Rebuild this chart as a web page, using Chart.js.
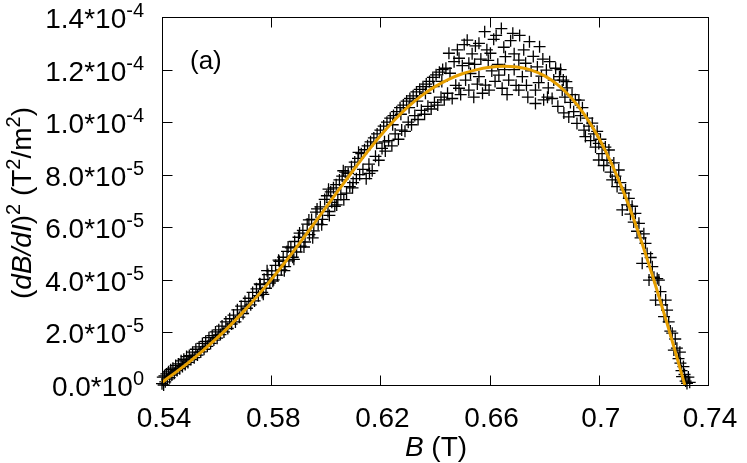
<!DOCTYPE html>
<html>
<head>
<meta charset="utf-8">
<script src="https://cdn.jsdelivr.net/npm/chart.js@4.4.1/dist/chart.umd.min.js"></script>
<style>
  html, body { margin: 0; padding: 0; background: #fff; }
  #wrap { width: 747px; height: 463px; }
</style>
</head>
<body>
<div id="wrap"><canvas id="c" width="747" height="463"></canvas></div>
<script>
// B in T, (dB/dI)^2 in units of 1e-5 T^2/m^2

// fitted curve (orange)
const fitB = [0.540, 0.545, 0.550, 0.555, 0.560, 0.565, 0.570, 0.575, 0.580, 0.585,
              0.590, 0.595, 0.600, 0.605, 0.610, 0.615, 0.620, 0.625, 0.630, 0.635,
              0.640, 0.645, 0.650, 0.655, 0.660, 0.665, 0.670, 0.675, 0.680, 0.685,
              0.690, 0.695, 0.700, 0.705, 0.710, 0.715, 0.720, 0.725, 0.730, 0.7315];
const fitD = [0.10, 0.48, 0.88, 1.31, 1.77, 2.27, 2.81, 3.39, 4.01, 4.66,
              5.34, 6.04, 6.75, 7.46, 8.16, 8.84, 9.48, 10.06, 10.57, 11.00,
              11.35, 11.63, 11.84, 11.99, 12.09, 12.13, 12.10, 11.99, 11.77, 11.42,
              10.92, 10.25, 9.40, 8.35, 7.10, 5.65, 4.05, 2.35, 0.55, 0.00];

// measured points [B, (dB/dI)^2]
const measured = [
  [0.5400,0.05],[0.5403,0.30],[0.5406,0.00],[0.5409,0.35],[0.5412,0.12],[0.5416,0.42],[0.5420,0.22],[0.5424,0.50],[0.5428,0.28],[0.5432,0.58],
  [0.5436,0.38],[0.5440,0.64],[0.5445,0.45],[0.5450,0.74],[0.5455,0.55],[0.5460,0.80],[0.5465,0.62],[0.5470,0.92],[0.5475,0.70],[0.5480,0.98],
  [0.5485,0.78],[0.5490,1.08],[0.5495,0.86],[0.5500,1.12],[0.5506,0.97],[0.5512,1.25],[0.5518,1.04],[0.5524,1.36],[0.5530,1.14],[0.5536,1.45],
  [0.5542,1.26],[0.5548,1.58],[0.5554,1.36],[0.5560,1.66],[0.5566,1.47],[0.5572,1.80],[0.5578,1.58],[0.5584,1.88],[0.5590,1.71],[0.5596,2.02],
  [0.5602,1.78],[0.5608,2.10],[0.5614,1.92],[0.5620,2.24],[0.5627,2.02],[0.5634,2.40],[0.5641,2.15],[0.5648,2.52],[0.5655,2.32],[0.5662,2.66],
  [0.5669,2.40],[0.5676,2.86],[0.5683,2.58],[0.5690,3.00],[0.5697,2.72],[0.5704,3.18],[0.5711,2.92],[0.5718,3.30],[0.5725,3.05],[0.5732,3.52],
  [0.5739,3.20],[0.5746,3.66],[0.5753,3.40],[0.5760,3.82],[0.5767,3.52],[0.5774,4.02],[0.5781,3.68],[0.5788,4.20],[0.5795,3.88],[0.5802,4.34],
  [0.5809,4.00],[0.5816,4.55],[0.5823,4.18],[0.5830,4.70],[0.5837,4.38],[0.5844,4.86],[0.5851,4.50],[0.5858,5.08],[0.5865,4.72],[0.5872,5.22],
  [0.5879,4.86],[0.5886,5.46],[0.5893,5.06],[0.5900,5.62],[0.5908,5.28],[0.5916,5.88],[0.5924,5.44],[0.5932,6.12],[0.5940,5.72],[0.5948,6.30],
  [0.5956,5.86],[0.5964,6.58],[0.5972,6.12],[0.5980,6.78],[0.5988,6.30],[0.5996,7.06],
  [0.5758,3.85],[0.5771,3.45],[0.5785,4.35],[0.5806,3.95],[0.5827,4.75],[0.5848,4.35],[0.5862,5.25],[0.5883,4.78],[0.5904,5.78],[0.5920,5.25],
  [0.5938,6.28],[0.5952,5.60],[0.5968,6.70],[0.5985,6.10],
  [0.6004,7.20],[0.6008,6.60],[0.6013,6.45],[0.6018,7.35],[0.6022,6.95],[0.6028,7.50],[0.6033,6.80],[0.6038,7.62],[0.6044,7.05],[0.6050,7.80],
  [0.6055,7.25],[0.6060,7.95],[0.6066,7.05],[0.6071,8.10],[0.6076,7.30],[0.6082,8.05],[0.6088,7.55],[0.6094,8.30],[0.6100,7.70],[0.6106,8.48],
  [0.6112,7.85],[0.6118,8.62],[0.6124,8.00],[0.6130,8.80],[0.6136,8.20],[0.6142,8.95],[0.6148,7.85],[0.6153,9.10],[0.6158,8.40],[0.6164,9.25],
  [0.6170,8.15],[0.6176,9.40],[0.6182,8.70],[0.6188,9.55],[0.6194,8.55],[0.6200,9.70],[0.6206,9.00],[0.6212,9.85],[0.6218,8.90],[0.6224,10.00],
  [0.6230,9.30],[0.6236,10.15],[0.6242,9.10],[0.6248,10.25],[0.6254,9.55],[0.6260,10.40],[0.6266,9.35],[0.6272,10.55],[0.6278,9.70],[0.6284,10.65],
  [0.6290,9.65],[0.6296,10.80],[0.6302,10.00],[0.6308,10.90],[0.6314,9.90],[0.6320,11.00],[0.6326,10.25],[0.6332,11.15],[0.6338,10.10],[0.6344,11.25],
  [0.6350,10.45],[0.6356,11.35],[0.6362,10.30],[0.6368,11.45],[0.6374,10.60],[0.6380,11.55],[0.6386,10.50],[0.6392,11.70],[0.6398,10.75],[0.6404,11.80],
  [0.6410,10.65],[0.6416,11.90],[0.6422,10.95],[0.6428,12.00],[0.6434,10.85],[0.6440,12.05],[0.6446,11.10],
  [0.6010,7.45],[0.6040,6.85],[0.6064,8.15],[0.6098,7.50],[0.6120,8.85],[0.6160,8.05],[0.6186,9.20],[0.6215,9.25],[0.6245,9.90],[0.6275,10.30],
  [0.6305,10.55],[0.6335,10.80],[0.6365,11.10],[0.6395,11.35],[0.6425,11.55],
  [0.6451,12.62],[0.6455,11.86],[0.6463,10.90],[0.6470,12.30],[0.6476,11.40],[0.6482,12.75],[0.6488,12.43],[0.6488,11.29],[0.6494,11.05],[0.6500,12.15],
  [0.6507,12.95],[0.6512,11.60],[0.6518,13.12],[0.6524,12.24],[0.6524,11.22],[0.6530,11.85],[0.6536,12.60],[0.6542,10.95],[0.6548,12.90],[0.6555,11.45],
  [0.6561,13.00],[0.6561,11.73],[0.6568,12.40],[0.6574,11.10],[0.6582,13.44],[0.6585,11.41],[0.6590,12.75],[0.6598,11.22],[0.6603,12.62],[0.6608,11.95],
  [0.6615,13.15],[0.6624,13.30],[0.6630,12.20],[0.6634,11.79],[0.6643,13.56],[0.6646,11.29],[0.6652,12.85],[0.6658,12.49],[0.6664,11.05],[0.6670,11.60],
  [0.6677,13.10],[0.6685,13.38],[0.6690,12.00],[0.6697,11.40],[0.6707,12.36],[0.6707,11.22],[0.6710,13.30],[0.6720,11.73],[0.6725,12.75],[0.6732,12.24],
  [0.6740,10.95],[0.6746,13.06],[0.6752,11.95],[0.6760,12.50],[0.6768,11.22],[0.6768,10.71],[0.6775,12.10],[0.6780,11.50],[0.6783,12.87],[0.6790,11.75],
  [0.6798,10.85],[0.6808,11.98],[0.6815,11.30],[0.6820,12.30],[0.6829,10.90],[0.6835,11.60],[0.6842,12.05],[0.6850,10.60],[0.6856,11.73],[0.6866,11.22],
  [0.6872,10.35],[0.6881,11.54],
  [0.6545,12.20],[0.6595,12.35],[0.6620,11.55],[0.6655,12.00],[0.6690,12.60],[0.6735,11.40],[0.6795,12.40],[0.6812,10.95],[0.6860,12.00],
  [0.6870,11.60],[0.6876,10.95],[0.6884,11.30],[0.6890,10.20],[0.6896,10.75],[0.6902,11.05],[0.6908,10.40],[0.6914,10.85],[0.6920,9.95],[0.6927,10.84],
  [0.6933,10.25],[0.6940,10.55],[0.6946,9.70],[0.6951,9.45],[0.6958,10.15],[0.6964,9.85],[0.6970,9.30],[0.6976,9.96],[0.6982,9.55],[0.6988,9.05],
  [0.6994,9.65],[0.7000,9.19],[0.7000,8.56],[0.7006,9.35],[0.7012,8.80],[0.7018,8.35],[0.7024,9.05],[0.7030,8.55],[0.7037,8.94],[0.7043,8.10],
  [0.7049,7.80],[0.7055,8.45],[0.7061,7.95],[0.7067,7.55],[0.7073,8.18],[0.7079,7.70],[0.7086,6.66],[0.7092,7.30],[0.7098,7.42],[0.7104,6.85],
  [0.7110,7.10],[0.7116,6.50],[0.7122,6.80],[0.7128,6.20],[0.7134,6.53],[0.7140,5.85],[0.7147,6.15],
  [0.7153,5.60],[0.7159,4.63],[0.7165,5.75],[0.7171,5.39],[0.7177,5.00],[0.7184,3.99],[0.7190,4.85],[0.7196,4.50],[0.7202,4.10],[0.7208,3.23],
  [0.7214,4.05],[0.7220,3.99],[0.7226,3.55],[0.7232,3.05],[0.7239,2.60],[0.7245,3.23],[0.7250,2.85],[0.7256,2.40],[0.7262,2.05],[0.7269,1.97],
  [0.7275,1.33],[0.7280,1.75],[0.7286,1.40],[0.7292,1.00],[0.7297,1.25],[0.7299,0.83],[0.7303,0.55],[0.7305,0.32],[0.7310,0.70],[0.7314,0.40],
  [0.7318,0.15],[0.7323,0.06],[0.7328,0.30],[0.7333,0.10]
];

// axis ticks
const xTicks = [0.54, 0.58, 0.62, 0.66, 0.70, 0.74];
const xTickLabels = ['0.54', '0.58', '0.62', '0.66', '0.7', '0.74'];
const yTicks = [0, 2, 4, 6, 8, 10, 12, 14];
const yTickMant = ['0.0', '2.0', '4.0', '6.0', '8.0', '1.0', '1.2', '1.4'];
const yTickExp = ['0', '-5', '-5', '-5', '-5', '-4', '-4', '-4'];

const FONT = '"Liberation Sans", Arial, Helvetica, sans-serif';

// draw a row of text pieces (some superscript / italic)
function drawParts(ctx, parts, x, y, align) {
    let total = 0;
    parts.forEach(p => {
        ctx.font = (p.italic ? 'italic ' : '') + p.size + 'px ' + FONT;
        p.w = ctx.measureText(p.t).width;
        total += p.w;
    });
    let cx = x;
    if (align === 'center') cx = x - total / 2;
    if (align === 'right') cx = x - total;
    ctx.textAlign = 'left';
    ctx.textBaseline = 'alphabetic';
    parts.forEach(p => {
        ctx.font = (p.italic ? 'italic ' : '') + p.size + 'px ' + FONT;
        ctx.fillText(p.t, cx, y - (p.rise || 0));
        cx += p.w;
    });
}

// gnuplot style frame: border, inward ticks on all sides, labels
const framePlugin = {
    id: 'frame',
    afterDraw(chart) {
        const { ctx, chartArea: a, scales: { x, y } } = chart;
        const L = Math.round(a.left) + 0.5, R = Math.round(a.right) + 0.5;
        const T = Math.round(a.top) + 0.5, B = Math.round(a.bottom) + 0.5;
        const tl = 10;
        ctx.save();
        ctx.strokeStyle = '#000';
        ctx.lineWidth = 1;
        ctx.strokeRect(L, T, R - L, B - T);

        ctx.beginPath();
        xTicks.forEach(v => {
            const px = Math.round(x.getPixelForValue(v)) + 0.5;
            ctx.moveTo(px, B); ctx.lineTo(px, B - tl);
            ctx.moveTo(px, T); ctx.lineTo(px, T + tl);
        });
        yTicks.forEach(v => {
            const py = Math.round(y.getPixelForValue(v)) + 0.5;
            ctx.moveTo(L, py); ctx.lineTo(L + tl, py);
            ctx.moveTo(R, py); ctx.lineTo(R - tl, py);
        });
        ctx.stroke();

        ctx.fillStyle = '#000';
        xTicks.forEach((v, i) => {
            const px = x.getPixelForValue(v);
            drawParts(ctx, [{ t: xTickLabels[i], size: 28 }], px + 2, 427, 'center');
        });
        yTicks.forEach((v, i) => {
            const py = y.getPixelForValue(v);
            drawParts(ctx, [
                { t: yTickMant[i] + '*10', size: 28 },
                { t: yTickExp[i], size: 20, rise: 11 }
            ], 144, py + 11, 'right');
        });

        // axis titles
        drawParts(ctx, [
            { t: 'B', size: 28, italic: true },
            { t: ' (T)', size: 28 }
        ], 436, 456, 'center');

        ctx.save();
        ctx.translate(31, 203);
        ctx.rotate(-Math.PI / 2);
        drawParts(ctx, [
            { t: '(', size: 28 },
            { t: 'dB/dI', size: 28, italic: true },
            { t: ')', size: 28 },
            { t: '2', size: 20, rise: 11 },
            { t: ' (T', size: 28 },
            { t: '2', size: 20, rise: 11 },
            { t: '/m', size: 28 },
            { t: '2', size: 20, rise: 11 },
            { t: ')', size: 28 }
        ], 0, 0, 'center');
        ctx.restore();

        // panel label
        drawParts(ctx, [{ t: '(a)', size: 26 }], 190, 69, 'left');
        ctx.restore();
    }
};

new Chart(document.getElementById('c'), {
    type: 'scatter',
    data: {
        datasets: [
            {
                label: 'fit',
                data: fitB.map((b, i) => ({ x: b, y: fitD[i] })),
                showLine: true,
                borderColor: '#E69F00',
                borderWidth: 3,
                pointRadius: 0,
                cubicInterpolationMode: 'monotone',
                clip: false,
                order: 0
            },
            {
                label: 'data',
                data: measured.map(p => ({ x: p[0], y: p[1] })),
                pointStyle: 'cross',
                pointRadius: 6,
                borderWidth: 1.3,
                borderColor: '#000',
                backgroundColor: '#000',
                clip: false,
                order: 1
            }
        ]
    },
    options: {
        responsive: false,
        devicePixelRatio: 1,
        animation: false,
        layout: { padding: { left: 162, right: 39, top: 17, bottom: 78 } },
        scales: {
            x: { type: 'linear', min: 0.54, max: 0.74, display: false },
            y: { type: 'linear', min: 0, max: 14, display: false }
        },
        plugins: {
            legend: { display: false },
            tooltip: { enabled: false }
        }
    },
    plugins: [framePlugin]
});
</script>
</body>
</html>
